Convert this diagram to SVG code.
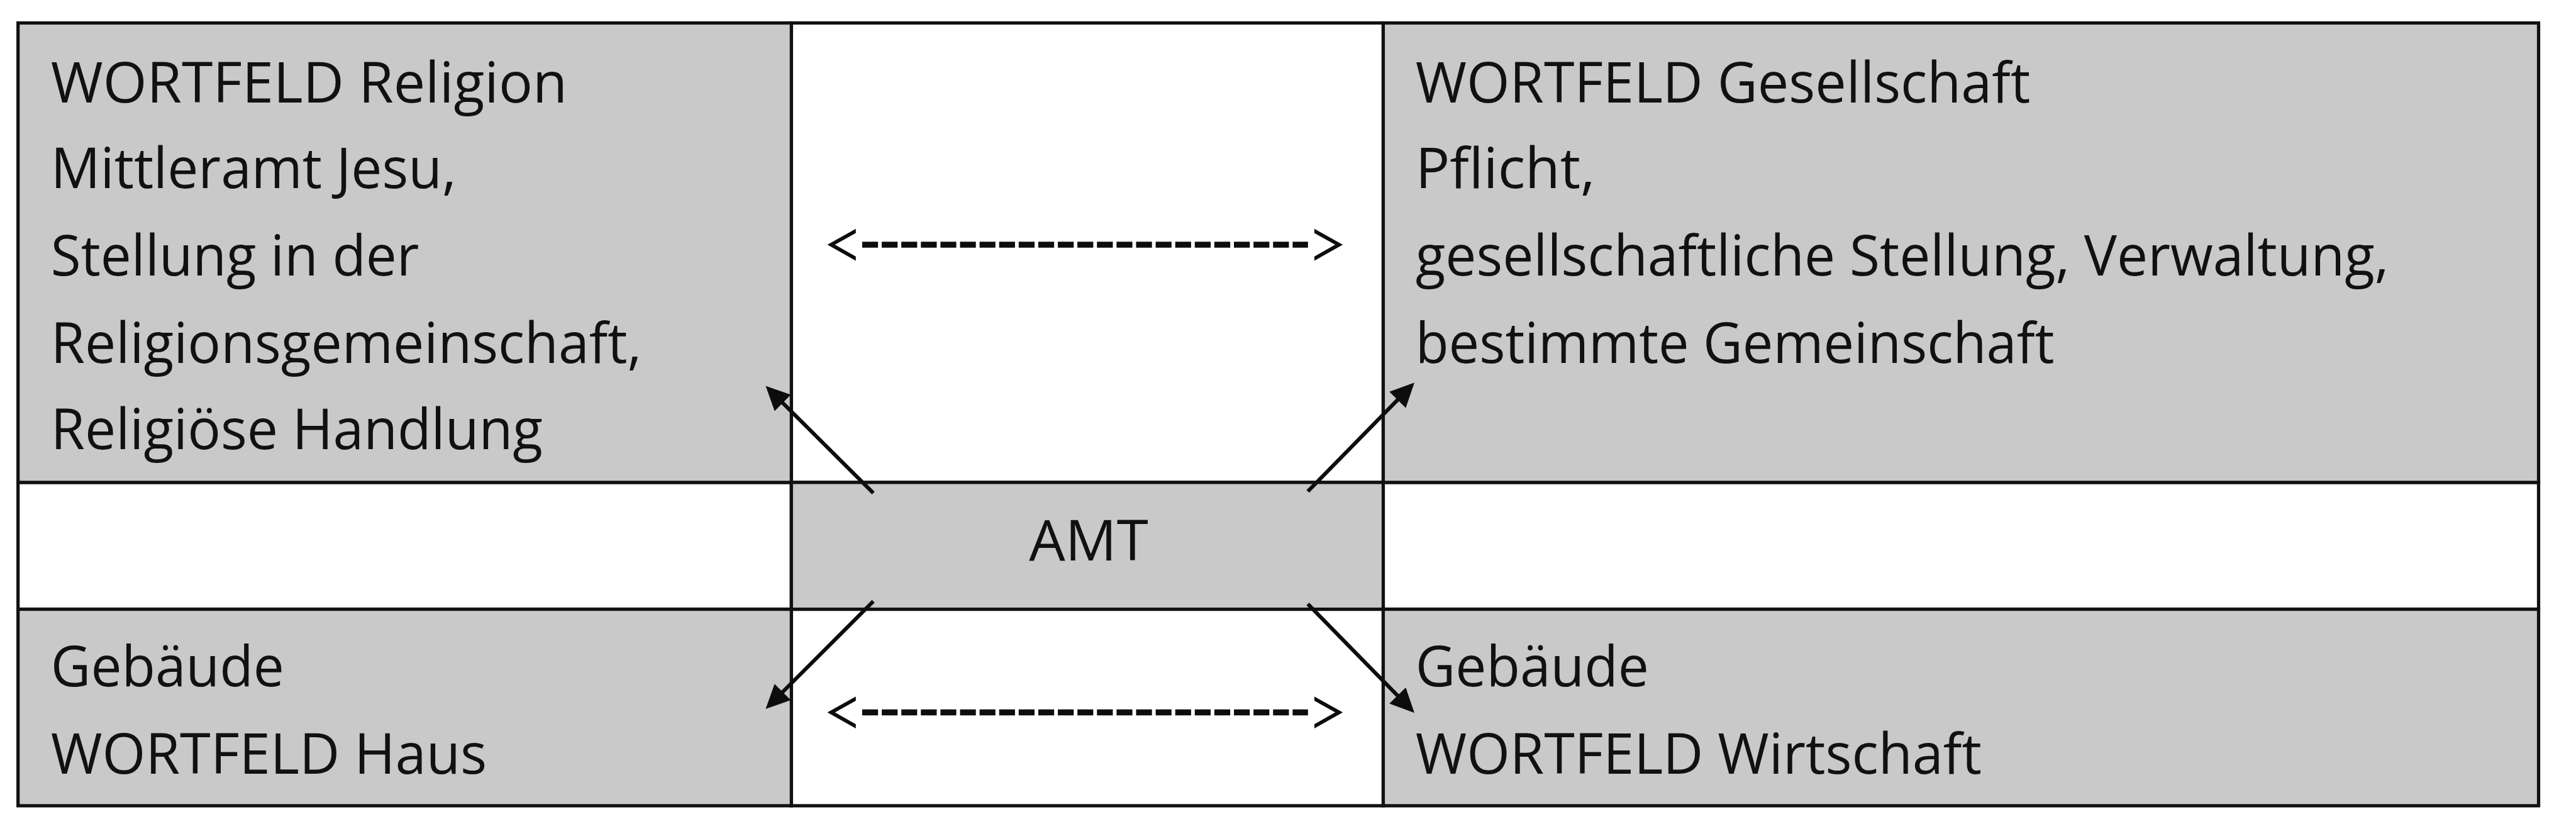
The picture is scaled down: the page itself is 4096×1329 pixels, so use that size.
<svg xmlns="http://www.w3.org/2000/svg" width="4096" height="1329" viewBox="0 0 4096 1329">
<style>
.cell{stroke:#111;stroke-width:6}
.g{fill:#c9c9c9}
.w{fill:#fff}
text{font-family:"Open Sans","Liberation Sans",sans-serif;font-size:104px;fill:#111}
.conn{stroke:#0d0d0d;stroke-width:7;fill:none;marker-end:url(#ah)}
.dash{stroke:#0d0d0d;stroke-width:11;stroke-dasharray:29 6.8;fill:none;marker-start:url(#chev);marker-end:url(#chev)}
</style>
<defs>
<marker id="ah" markerUnits="userSpaceOnUse" markerWidth="50" markerHeight="50" refX="32" refY="21" orient="auto" overflow="visible">
<path d="M0,0 L44,21 L0,42 z" fill="#0d0d0d" stroke="none"/>
</marker>
<marker id="chev" markerUnits="userSpaceOnUse" markerWidth="70" markerHeight="70" refX="0" refY="0" orient="auto-start-reverse" overflow="visible">
<path d="M11.7,-29.2 L63.7,0 L11.7,29.2 L11.7,21.4 L49.8,0 L11.7,-21.4 z" fill="#0d0d0d" stroke="none"/>
</marker>
</defs>
<rect x="0" y="0" width="4096" height="1329" fill="#fff"/>
<g transform="scale(0.869)">
<g id="empty-cells">
<rect class="cell w" x="1448" y="42" width="1083" height="840.5"/>
<rect class="cell w" x="33" y="882.5" width="1415" height="232"/>
<rect class="cell w" x="2531" y="882.5" width="2114" height="232"/>
<rect class="cell w" x="1448" y="1114.5" width="1083" height="359.5"/>
</g>
<g id="n-religion">
<rect class="cell g" x="33" y="42" width="1415" height="840.5"/>
<text x="93" y="187" textLength="945" lengthAdjust="spacingAndGlyphs">WORTFELD Religion</text>
<text x="93" y="344" textLength="742" lengthAdjust="spacingAndGlyphs">Mittleramt Jesu,</text>
<text x="93" y="504" textLength="674" lengthAdjust="spacingAndGlyphs">Stellung in der</text>
<text x="93" y="664" textLength="1081" lengthAdjust="spacingAndGlyphs">Religionsgemeinschaft,</text>
<text x="93" y="822" textLength="900" lengthAdjust="spacingAndGlyphs">Religiöse Handlung</text>
</g>
<g id="n-gesellschaft">
<rect class="cell g" x="2531" y="42" width="2114" height="840.5"/>
<text x="2590" y="187" textLength="1125" lengthAdjust="spacingAndGlyphs">WORTFELD Gesellschaft</text>
<text x="2590" y="344" textLength="329" lengthAdjust="spacingAndGlyphs">Pflicht,</text>
<text x="2590" y="504" textLength="1781" lengthAdjust="spacingAndGlyphs">gesellschaftliche Stellung, Verwaltung,</text>
<text x="2590" y="664" textLength="1169" lengthAdjust="spacingAndGlyphs">bestimmte Gemeinschaft</text>
</g>
<g id="n-amt">
<rect class="cell g" x="1448" y="882.5" width="1083" height="232"/>
<text x="1992" y="1025" text-anchor="middle" textLength="218" lengthAdjust="spacingAndGlyphs">AMT</text>
</g>
<g id="n-haus">
<rect class="cell g" x="33" y="1114.5" width="1415" height="359.5"/>
<text x="93" y="1256" textLength="427" lengthAdjust="spacingAndGlyphs">Gebäude</text>
<text x="93" y="1415" textLength="798" lengthAdjust="spacingAndGlyphs">WORTFELD Haus</text>
</g>
<g id="n-wirtschaft">
<rect class="cell g" x="2531" y="1114.5" width="2114" height="359.5"/>
<text x="2590" y="1256" textLength="427" lengthAdjust="spacingAndGlyphs">Gebäude</text>
<text x="2590" y="1415" textLength="1036" lengthAdjust="spacingAndGlyphs">WORTFELD Wirtschaft</text>
</g>
<g id="connectors">
<line class="conn" x1="1598" y1="902" x2="1409.5" y2="714.5"/>
<line class="conn" x1="2393" y1="899" x2="2579.6" y2="708.6"/>
<line class="conn" x1="1598" y1="1100" x2="1409.5" y2="1288.5"/>
<line class="conn" x1="2393" y1="1105" x2="2579.6" y2="1295.4"/>
<path class="dash" d="M1577.6,447.7 H2393.3"/>
<path class="dash" d="M1577.6,1303.3 H2393.3"/>
</g>
</g>
</svg>
